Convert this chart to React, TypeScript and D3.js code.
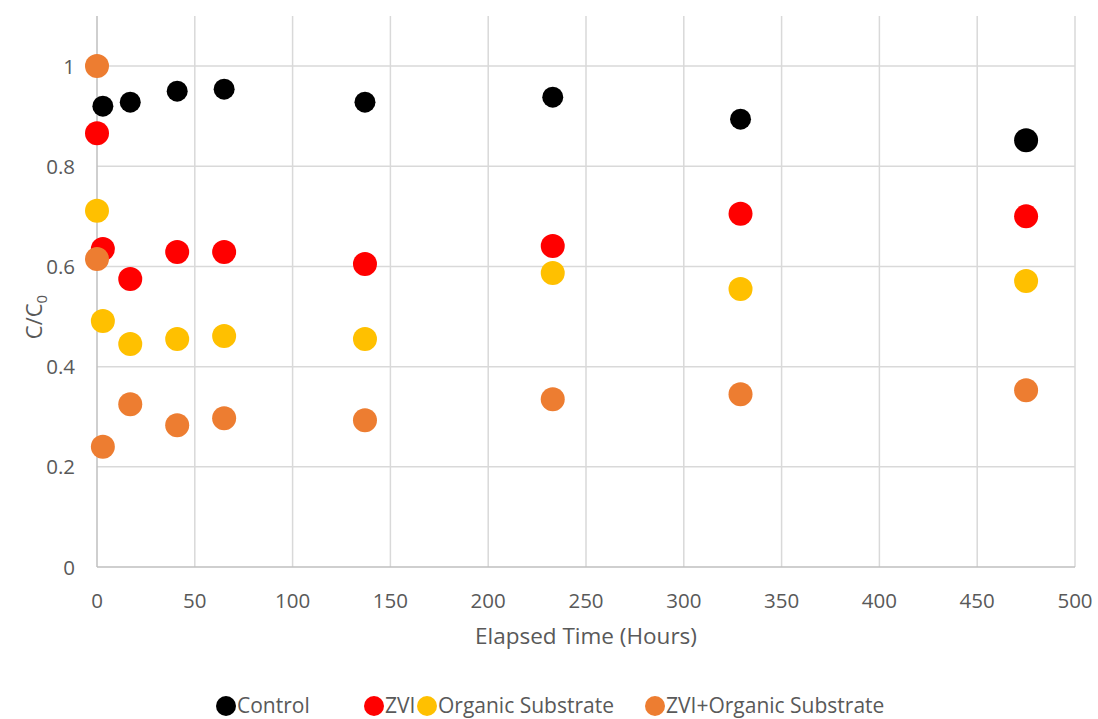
import React, { useEffect, useRef } from "react";
import * as d3 from "d3";

// elapsed time (hours) for each series
const controlTimes = [3, 17, 41, 65, 137, 233, 329, 475];
const controlValues = [0.92, 0.928, 0.95, 0.954, 0.928, 0.938, 0.894, 0.852];

const zviTimes = [0, 3, 17, 41, 65, 137, 233, 329, 475];
const zviValues = [0.866, 0.635, 0.575, 0.629, 0.629, 0.605, 0.641, 0.705, 0.7];

const organicTimes = [0, 3, 17, 41, 65, 137, 233, 329, 475];
const organicValues = [0.711, 0.491, 0.445, 0.455, 0.461, 0.455, 0.587, 0.555, 0.571];

const zviOrgTimes = [0, 0, 3, 17, 41, 65, 137, 233, 329, 475];
const zviOrgValues = [1.0, 0.615, 0.24, 0.325, 0.283, 0.297, 0.293, 0.335, 0.345, 0.353];

const seriesNames = ["Control", "ZVI", "Organic Substrate", "ZVI+Organic Substrate"];
const seriesColors = ["#000000", "#ff0000", "#ffc000", "#ed7d31"];

const xTicks = [0, 50, 100, 150, 200, 250, 300, 350, 400, 450, 500];
const yTicks = [0, 0.2, 0.4, 0.6, 0.8, 1];

const App: React.FC = () => {
  const svgRef = useRef<SVGSVGElement>(null);

  useEffect(() => {
    const svg = d3.select(svgRef.current).attr("width", 1098).attr("height", 719);
    svg.selectAll("*").remove();

    const font = "'Open Sans', Lato, sans-serif";
    const textColor = "#595959";
    const margin = { top: 16, right: 23, bottom: 152, left: 97 };
    const innerWidth = 1098 - margin.left - margin.right;
    const innerHeight = 719 - margin.top - margin.bottom;

    const xScale = d3.scaleLinear().domain([0, 500]).range([0, innerWidth]);
    const yScale = d3.scaleLinear().domain([0, 1.1]).range([innerHeight, 0]);

    const g = svg
      .append("g")
      .attr("transform", `translate(${margin.left}, ${margin.top})`);

    // 网格线
    g.selectAll(".hgrid")
      .data(yTicks.filter((d) => d > 0))
      .enter()
      .append("line")
      .attr("x1", 0)
      .attr("x2", innerWidth)
      .attr("y1", (d) => yScale(d))
      .attr("y2", (d) => yScale(d))
      .attr("stroke", "#d9d9d9")
      .attr("stroke-width", 1.5);

    g.selectAll(".vgrid")
      .data(xTicks.filter((d) => d > 0))
      .enter()
      .append("line")
      .attr("x1", (d) => xScale(d))
      .attr("x2", (d) => xScale(d))
      .attr("y1", 0)
      .attr("y2", innerHeight)
      .attr("stroke", "#d9d9d9")
      .attr("stroke-width", 1.5);

    // 坐标轴线
    g.append("line")
      .attr("x1", 0)
      .attr("x2", 0)
      .attr("y1", 0)
      .attr("y2", innerHeight)
      .attr("stroke", "#bfbfbf")
      .attr("stroke-width", 1.5);
    g.append("line")
      .attr("x1", 0)
      .attr("x2", innerWidth)
      .attr("y1", innerHeight)
      .attr("y2", innerHeight)
      .attr("stroke", "#bfbfbf")
      .attr("stroke-width", 1.5);

    // 刻度标签
    g.selectAll(".ytick")
      .data(yTicks)
      .enter()
      .append("text")
      .text((d) => d3.format("~g")(d))
      .attr("x", -22)
      .attr("y", (d) => yScale(d) + 7.5)
      .attr("text-anchor", "end")
      .attr("font-family", font)
      .attr("font-size", 20.5)
      .attr("fill", textColor);

    g.selectAll(".xtick")
      .data(xTicks)
      .enter()
      .append("text")
      .text((d) => d)
      .attr("x", (d) => xScale(d))
      .attr("y", innerHeight + 41)
      .attr("text-anchor", "middle")
      .attr("font-family", font)
      .attr("font-size", 20.5)
      .attr("fill", textColor);

    // 轴标题
    svg
      .append("text")
      .text("Elapsed Time (Hours)")
      .attr("x", margin.left + innerWidth / 2)
      .attr("y", 644)
      .attr("text-anchor", "middle")
      .attr("font-family", font)
      .attr("font-size", 22.5)
      .attr("fill", textColor);

    const yTitle = svg
      .append("text")
      .attr("transform", `translate(42, 317) rotate(-90)`)
      .attr("text-anchor", "middle")
      .attr("font-family", font)
      .attr("font-size", 22)
      .attr("fill", textColor);
    yTitle.append("tspan").text("C/C");
    yTitle.append("tspan").text("0").attr("font-size", 15).attr("dy", 5);

    // 数据点
    const allSeries = [
      { times: controlTimes, values: controlValues },
      { times: zviTimes, values: zviValues },
      { times: organicTimes, values: organicValues },
      { times: zviOrgTimes, values: zviOrgValues },
    ];

    allSeries.forEach((s, i) => {
      s.times.forEach((t, j) => {
        let r = 12;
        if (i === 0 && j < s.times.length - 1) r = 10.5;
        g.append("circle")
          .attr("cx", xScale(t))
          .attr("cy", yScale(s.values[j]))
          .attr("r", r)
          .attr("fill", seriesColors[i]);
      });
    });

    // 图例
    const legendX = [226, 374, 427, 655];
    const legend = svg.append("g");
    seriesNames.forEach((name, i) => {
      legend
        .append("circle")
        .attr("cx", legendX[i])
        .attr("cy", 706)
        .attr("r", 10)
        .attr("fill", seriesColors[i]);
      legend
        .append("text")
        .text(name)
        .attr("x", legendX[i] + 11)
        .attr("y", 713)
        .attr("font-family", font)
        .attr("font-size", 21)
        .attr("fill", textColor);
    });
  }, []);

  return (
    <div style={{ position: "absolute", left: 0, top: 0 }}>
      <svg ref={svgRef} style={{ display: "block" }}></svg>
    </div>
  );
};

export default App;
